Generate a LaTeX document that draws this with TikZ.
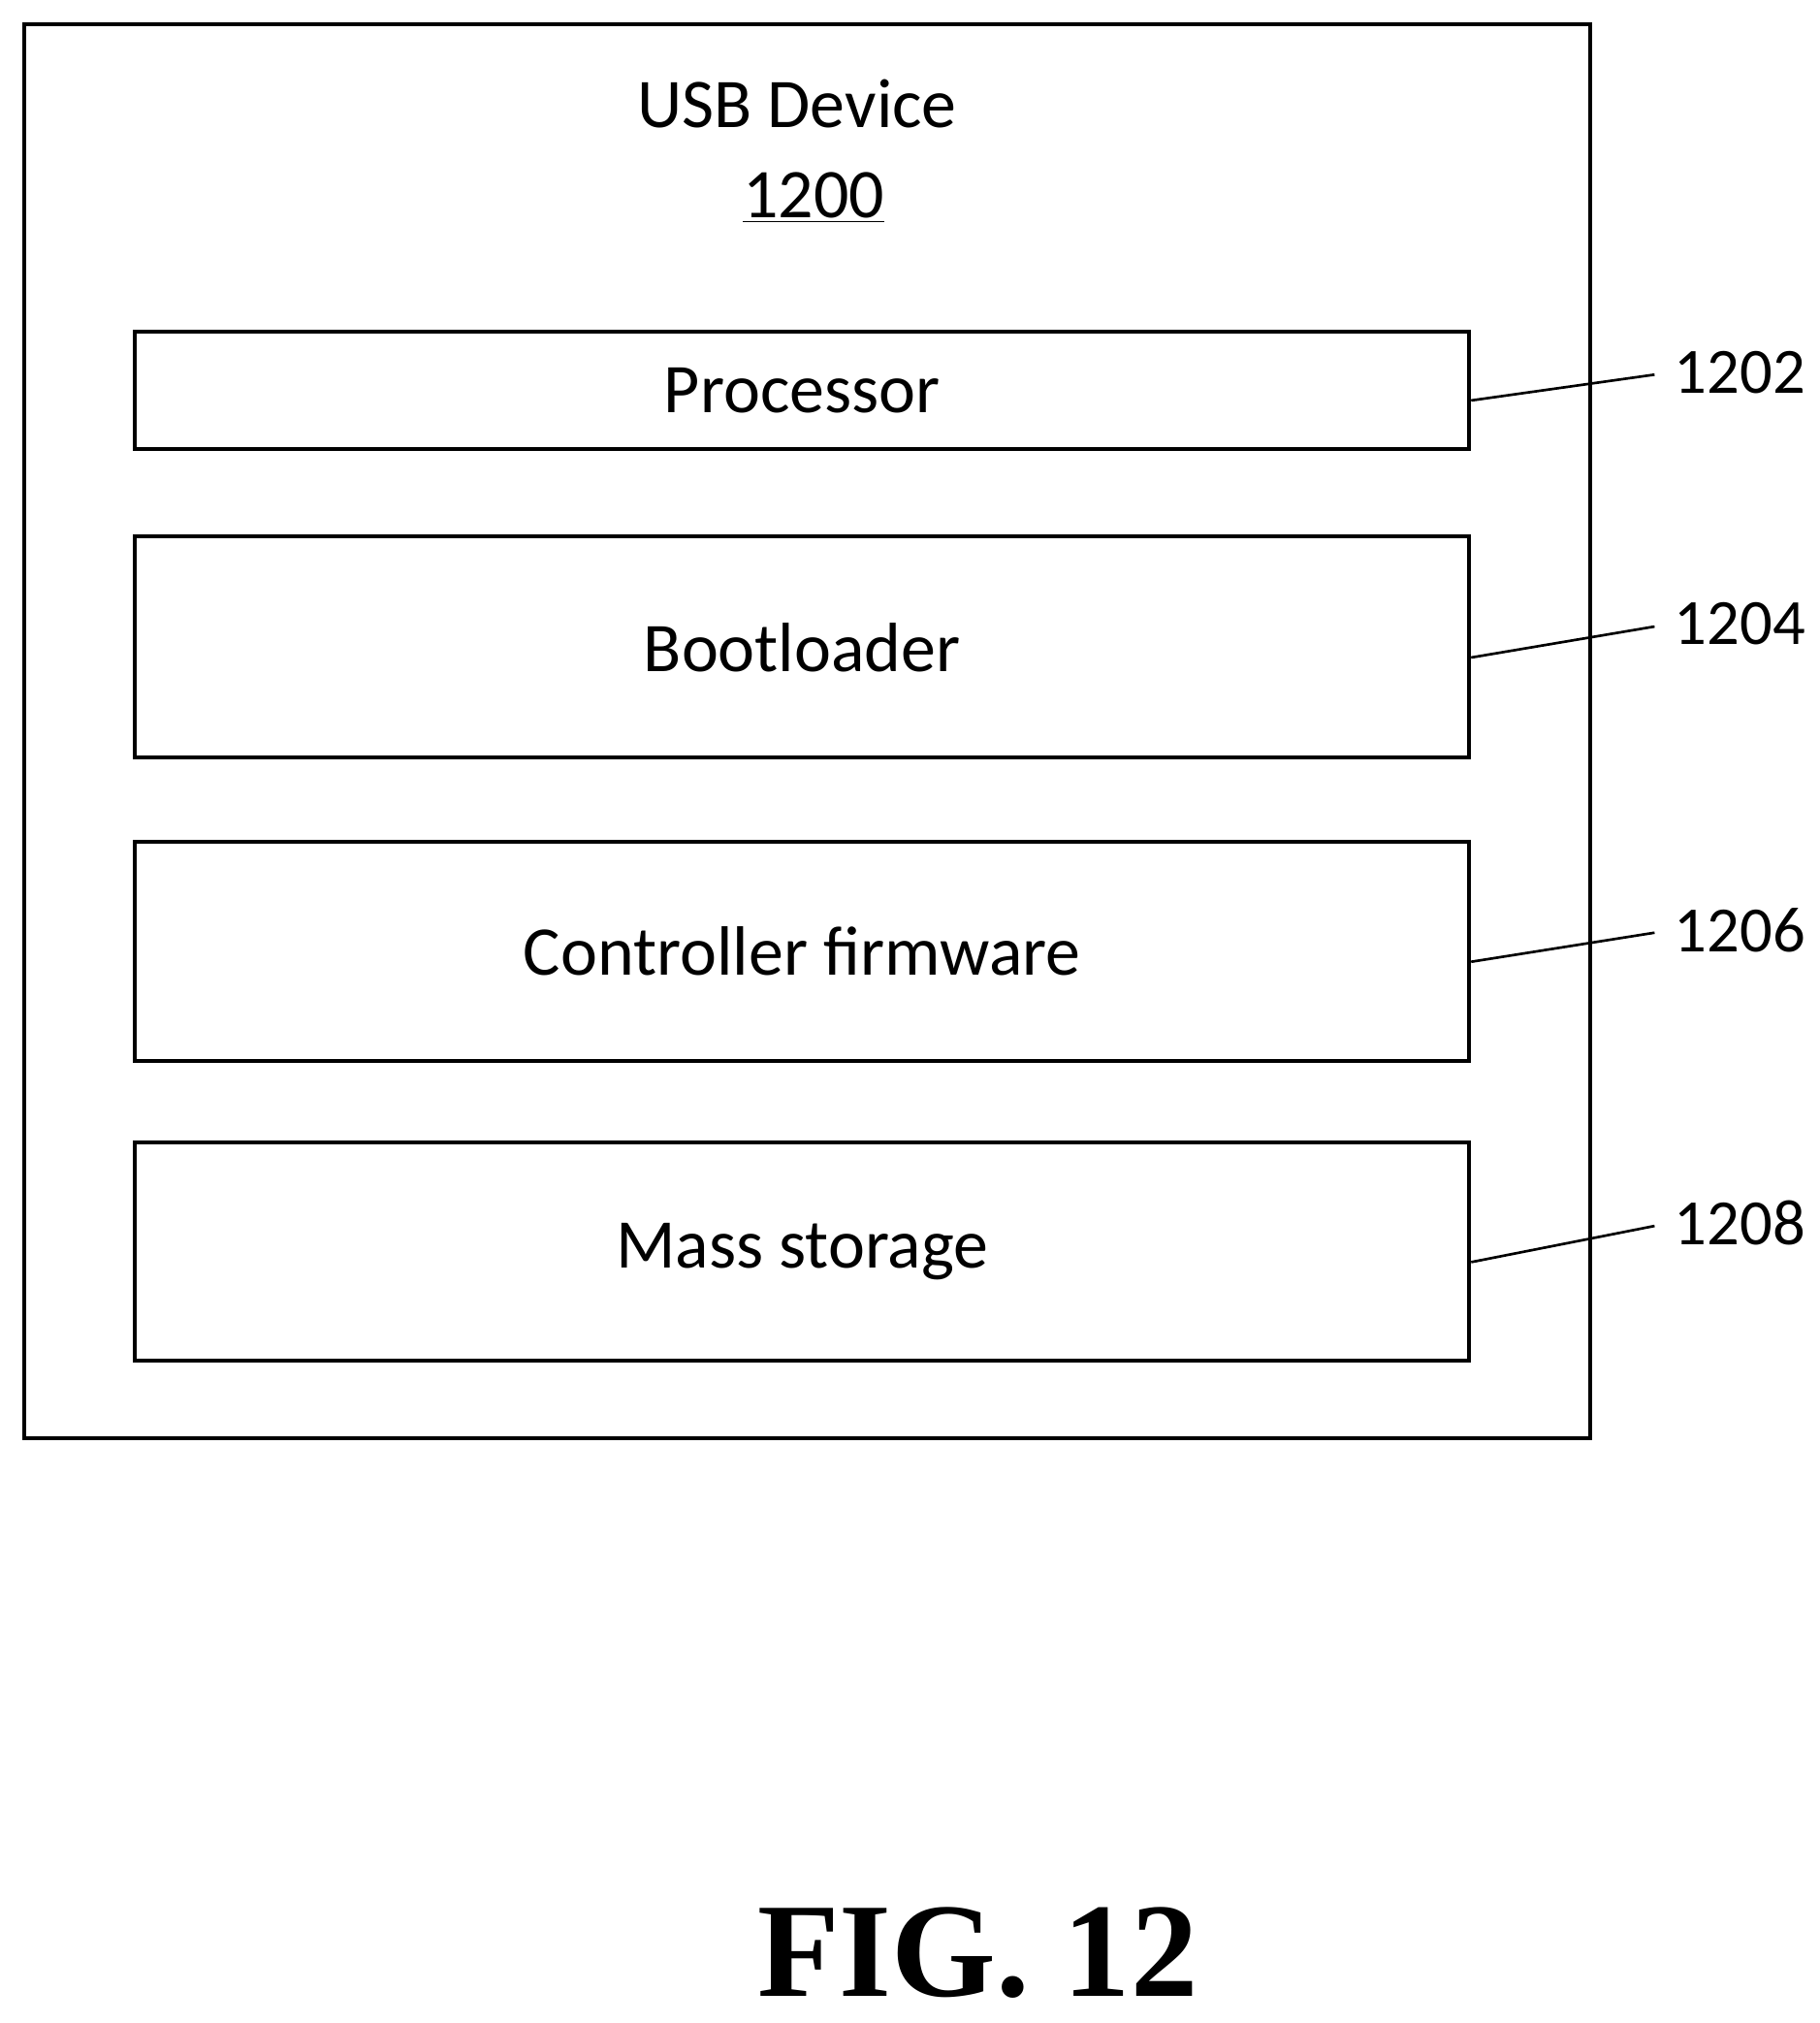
\documentclass[tikz,border=0pt]{standalone}
\usepackage{fontspec}
\setmainfont{Carlito}
\newfontfamily\figfont{Liberation Serif}
\begin{document}
\begin{tikzpicture}[x=0.5pt,y=-0.5pt,
 box/.style={draw,line width=1.5pt},
 txt/.style={font=\fontsize{27}{32}\selectfont},
 labtxt/.style={font=\fontsize{25}{30}\selectfont},
 lead/.style={line width=1pt}]
\useasboundingbox (0,0) rectangle (1409,1566);
\node[box,minimum width=606.5pt,minimum height=547.5pt,anchor=north west,inner sep=0pt] (dev) at (17,17) {};
\node[txt] (t1) at (617,80) {USB Device};
\node[txt] (t2) at (630,153) {\underline{1200}};
\foreach \n/\t/\b/\lab/\ly/\txt in {p/255/346/1202/288/Processor, b/414/585/1204/483/Bootloader, c/650/820/1206/720/Controller firmware, m/883/1052/1208/947/Mass storage}{
  \node[box,anchor=north west,inner sep=0pt,minimum width=516.5pt,minimum height={(\b-\t)/2*1pt}] (\n) at (103,\t) {};
  \node[txt] (\n t) at (\n.center) {\txt};
  \node[labtxt,anchor=west,inner sep=0pt] (\n l) at (1296,\ly) {\lab};
  \coordinate (\n e) at (1281,\ly+2);
  \draw[lead] ([yshift=-4pt]\n.east) -- (\n e);
}
\node[font=\figfont\bfseries\fontsize{52}{60}\selectfont] (fig) at (757,1512) {FIG. 12};
\end{tikzpicture}
\end{document}
